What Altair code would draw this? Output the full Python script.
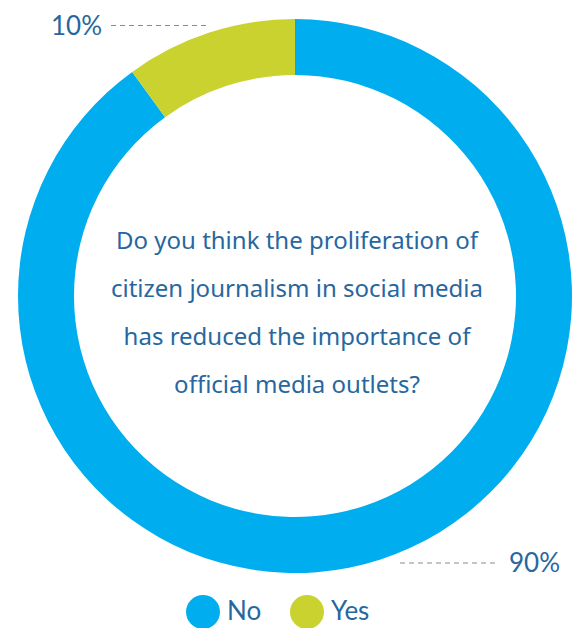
import altair as alt
import pandas as pd

categories = ["No", "Yes"]
values = [90, 10]
pct_labels = ["90%", "10%"]
question = [
    "Do you think the proliferation of",
    "citizen journalism in social media",
    "has reduced the importance of",
    "official media outlets?",
]

BLUE = "#00AEEF"
GREEN = "#C9D22F"
TEXT = "#2767A0"
FONT = "Lato"

df = pd.DataFrame({"answer": categories, "value": values})

cx, cy = 295, 296

donut = alt.Chart(df).mark_arc(outerRadius=277, innerRadius=221, stroke=None).encode(
    theta=alt.Theta("value:Q", stack=True),
    color=alt.Color(
        "answer:N",
        scale=alt.Scale(domain=categories, range=[BLUE, GREEN]),
        legend=alt.Legend(
            title=None,
            orient="none",
            legendX=186,
            legendY=595,
            direction="horizontal",
            symbolType="circle",
            symbolSize=1156,
            symbolStrokeWidth=0,
            symbolOpacity=1,
            labelFont=FONT,
            labelFontSize=26,
            labelColor=TEXT,
            labelOffset=7,
            columnPadding=28,
            padding=0,
        ),
    ),
    order=alt.Order("answer:N"),
    x=alt.value(cx),
    y=alt.value(cy),
)

center_text = alt.Chart(pd.DataFrame({"t": [question]})).mark_text(
    font="Noto Sans", fontSize=24, color=TEXT, align="center", baseline="alphabetic",
    lineHeight=48,
).encode(text="t", x=alt.value(297), y=alt.value(249))

lbl_yes = alt.Chart(pd.DataFrame({"t": [pct_labels[1]]})).mark_text(
    font=FONT, fontSize=26, color=TEXT, align="left", baseline="alphabetic"
).encode(text="t:N", x=alt.value(51), y=alt.value(35))

lbl_no = alt.Chart(pd.DataFrame({"t": [pct_labels[0]]})).mark_text(
    font=FONT, fontSize=26, color=TEXT, align="left", baseline="alphabetic"
).encode(text="t:N", x=alt.value(509), y=alt.value(572))

dash_yes = alt.Chart(pd.DataFrame({"a": [0]})).mark_rule(
    color="#8a8a8a", strokeDash=[5, 4], strokeWidth=1
).encode(x=alt.value(111), x2=alt.value(210), y=alt.value(25.5))

dash_no = alt.Chart(pd.DataFrame({"a": [0]})).mark_rule(
    color="#8a8a8a", strokeDash=[5, 4], strokeWidth=1
).encode(x=alt.value(400), x2=alt.value(499), y=alt.value(563))

chart = alt.layer(donut, center_text, lbl_yes, lbl_no, dash_yes, dash_no).properties(
    width=580, height=628, padding=0, autosize=alt.AutoSizeParams(type="none")
).configure_view(stroke=None)

chart.save("out.html", embed_options={"renderer": "svg", "actions": False})
